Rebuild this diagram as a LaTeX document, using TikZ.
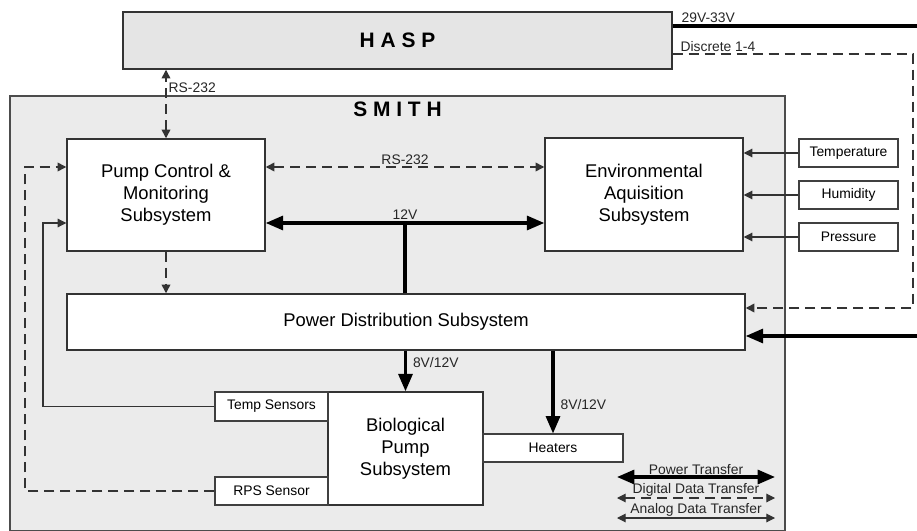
\documentclass[tikz,border=0pt]{standalone}
\usepackage{fontspec}
\setmainfont{Liberation Sans}
\usetikzlibrary{arrows.meta, positioning}

\begin{document}
\begin{tikzpicture}[x=0.75pt,y=-0.75pt,
        bigtip/.tip={Triangle[length=13pt,width=10.5pt]},
        smalltip/.tip={Triangle[length=6.5pt,width=6.5pt]},
        block/.style={draw=black!80,line width=1.1pt,fill=white,align=center,inner sep=0pt,
          font=\fontsize{13.8}{16.5}\selectfont},
        tag/.style={draw=black!75,line width=0.8pt,fill=white,inner sep=0pt,
          font=\fontsize{10.4}{12}\selectfont},
        lbl/.style={font=\fontsize{10.4}{12}\selectfont,inner sep=1.5pt,text=black!85},
        title/.style={font=\bfseries\fontsize{15.7}{18}\selectfont},
        powerlink/.style={line width=2.3pt,black},
        datalink/.style={line width=1.1pt,black!80,dash pattern=on 7.5pt off 4.5pt},
        analoglink/.style={line width=0.8pt,black!80}]
        \useasboundingbox (0,0) rectangle (917,531);

        % outer boxes
        \node[block,fill=gray!20,title,minimum width=411.75pt,minimum height=42.75pt] (hasp) at (397.5,40.5) {H A S P};
        \node[draw=black!70,line width=0.8pt,fill=gray!16,inner sep=0pt,
          minimum width=581.25pt,minimum height=326.25pt,
          label={[title,anchor=north,inner sep=0pt,yshift=-4.5pt]north:S M I T H}] (smith) at (397.5,313.5) {};

        % subsystems
        \node[block,minimum width=148.5pt,minimum height=84pt] (pump) at (166,195) {Pump Control \&\\Monitoring\\Subsystem};
        \node[block,minimum width=148.5pt,minimum height=84.75pt] (env) at (644,194.5) {Environmental\\Aquisition\\Subsystem};
        \node[block,minimum width=508.5pt,minimum height=42pt] (power) at (406,322) {Power Distribution Subsystem};
        \node[block,minimum width=116.25pt,minimum height=84.75pt] (bio) at (405.5,448.5) {Biological\\Pump\\Subsystem};

        % sensors and heaters
        \node[tag,minimum width=84.75pt,minimum height=21.75pt] (tsens) at (271.5,406.5) {Temp Sensors};
        \node[tag,minimum width=84.75pt,minimum height=21pt] (rps) at (271.5,491) {RPS Sensor};
        \node[tag,minimum width=105pt,minimum height=21pt] (heat) at (553,448) {Heaters};
        \node[tag,minimum width=74.25pt,minimum height=21pt] (temp) at (848.5,153) {Temperature};
        \node[tag,minimum width=74.25pt,minimum height=21pt] (humid) at (848.5,195) {Humidity};
        \node[tag,minimum width=74.25pt,minimum height=21pt] (press) at (848.5,237) {Pressure};

        % free ends and bends
        \coordinate (vin) at (917,26);
        \coordinate (vout) at (917,336);
        \coordinate (dtop) at (913,54);
        \coordinate (dbot) at (913,308);
        \coordinate (tbend) at (43,223);
        \coordinate (rbend) at (25,167);

        % HASP links
        \draw[powerlink] (vin -| hasp.east) -- node[lbl,pos=0,anchor=south west,xshift=4pt] {29V-33V} (vin);
        \draw[powerlink,-bigtip] (vout) -- (vout -| power.east);
        \draw[datalink,-smalltip] (dtop -| hasp.east) -- node[lbl,pos=0.01,anchor=south west,xshift=2pt] {Discrete 1-4} (dtop) -- (dbot) -- (dbot -| power.east);
        \draw[datalink,smalltip-smalltip] (pump.north) -- node[lbl,pos=0.74,anchor=west] {RS-232} (pump.north |- hasp.south);

        % internal links
        \draw[datalink,smalltip-smalltip] ([yshift=21pt]pump.east) -- node[lbl,above] {RS-232} ([yshift=21pt]pump.east -| env.west);
        \draw[powerlink,bigtip-bigtip] ([yshift=-21pt]pump.east) -- node[lbl,above] {12V} coordinate[pos=0.5] (tap) ([yshift=-21pt]pump.east -| env.west);
        \draw[powerlink] (tap |- power.north) -- (tap);
        \draw[datalink,-smalltip] (pump.south) -- (pump.south |- power.north);
        \draw[powerlink,-bigtip] (bio.north |- power.south) -- node[lbl,pos=0.3,anchor=west,xshift=3pt] {8V/12V} (bio.north);
        \draw[powerlink,-bigtip] (heat.north |- power.south) -- node[lbl,pos=0.65,anchor=west,xshift=3pt] {8V/12V} (heat.north);
        \draw[analoglink,-smalltip] (tsens.west) -| (tbend) -- (tbend -| pump.west);
        \draw[datalink,-smalltip] (rps.west) -| (rbend) -- (rbend -| pump.west);
        \draw[analoglink,-smalltip] (temp.west) -- (temp.west -| env.east);
        \draw[analoglink,-smalltip] (humid.west) -- (humid.west -| env.east);
        \draw[analoglink,-smalltip] (press.west) -- (press.west -| env.east);

        % legend
        \coordinate (lga) at (617,477);
        \coordinate (lgb) at (775,477);
        \coordinate (lgc) at (617,498);
        \coordinate (lgd) at (775,498);
        \coordinate (lge) at (617,518);
        \coordinate (lgf) at (775,518);
        \draw[powerlink,bigtip-bigtip] (lga) -- node[lbl,above,inner sep=1pt] {Power Transfer} (lgb);
        \draw[datalink,line width=0.8pt,smalltip-smalltip] (lgc) -- node[lbl,above,inner sep=0.5pt] {Digital Data Transfer} (lgd);
        \draw[analoglink,smalltip-smalltip] (lge) -- node[lbl,above,inner sep=0.5pt] {Analog Data Transfer} (lgf);
    \end{tikzpicture}
\end{document}
